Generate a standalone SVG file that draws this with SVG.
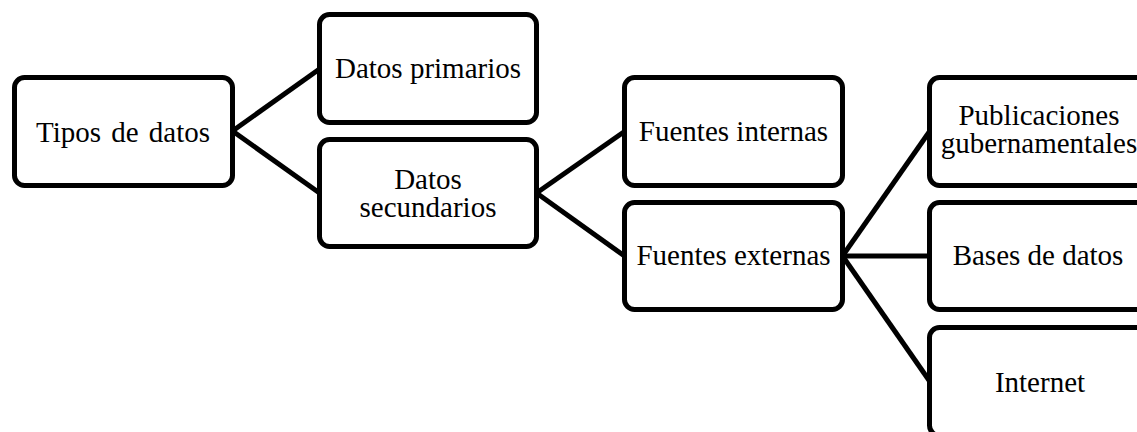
<svg xmlns="http://www.w3.org/2000/svg" width="1137" height="432" viewBox="0 0 1137 432">
<style>
.box{fill:#fff;stroke:#000;stroke-width:5}
.lbl{font-family:"Liberation Serif","Times New Roman",serif;font-size:29px;fill:#000;text-anchor:middle}
.con{stroke:#000;stroke-width:5;fill:none}
</style>
<rect width="1137" height="432" fill="#fff"/>
<g id="connectors">
<line class="con" x1="232.5" y1="131" x2="319.5" y2="69"/>
<line class="con" x1="232.5" y1="131" x2="319.5" y2="193"/>
<line class="con" x1="536.5" y1="193" x2="624.5" y2="131.5"/>
<line class="con" x1="536.5" y1="193" x2="624.5" y2="256"/>
<line class="con" x1="842.5" y1="256" x2="929.5" y2="131.5"/>
<line class="con" x1="842.5" y1="256" x2="929.5" y2="256"/>
<line class="con" x1="842.5" y1="256" x2="929.5" y2="381"/>
</g>
<g id="tipos">
<rect class="box" x="14.5" y="77.5" width="218" height="108" rx="10"/>
<text class="lbl" x="123" y="142" word-spacing="3">Tipos de datos</text>
</g>
<g id="primarios">
<rect class="box" x="319.5" y="14.5" width="217" height="108" rx="10"/>
<text class="lbl" x="428" y="78">Datos primarios</text>
</g>
<g id="secundarios">
<rect class="box" x="319.5" y="139.5" width="217" height="107" rx="10"/>
<text class="lbl" x="428" y="189"><tspan x="428" y="189">Datos</tspan><tspan x="428" y="217">secundarios</tspan></text>
</g>
<g id="internas">
<rect class="box" x="624.5" y="77.5" width="218" height="108" rx="10"/>
<text class="lbl" x="733.5" y="141">Fuentes internas</text>
</g>
<g id="externas">
<rect class="box" x="624.5" y="202.5" width="218" height="107" rx="10"/>
<text class="lbl" x="733.5" y="265">Fuentes externas</text>
</g>
<g id="publicaciones">
<rect class="box" x="929.5" y="77.5" width="218" height="108" rx="10"/>
<text class="lbl" x="1039" y="125"><tspan x="1039" y="125">Publicaciones</tspan><tspan x="1039" y="153">gubernamentales</tspan></text>
</g>
<g id="bases">
<rect class="box" x="929.5" y="202.5" width="218" height="107" rx="10"/>
<text class="lbl" x="1038" y="265">Bases de datos</text>
</g>
<g id="internet">
<rect class="box" x="929.5" y="327.5" width="218" height="108" rx="10"/>
<text class="lbl" x="1040" y="392">Internet</text>
</g>
</svg>
